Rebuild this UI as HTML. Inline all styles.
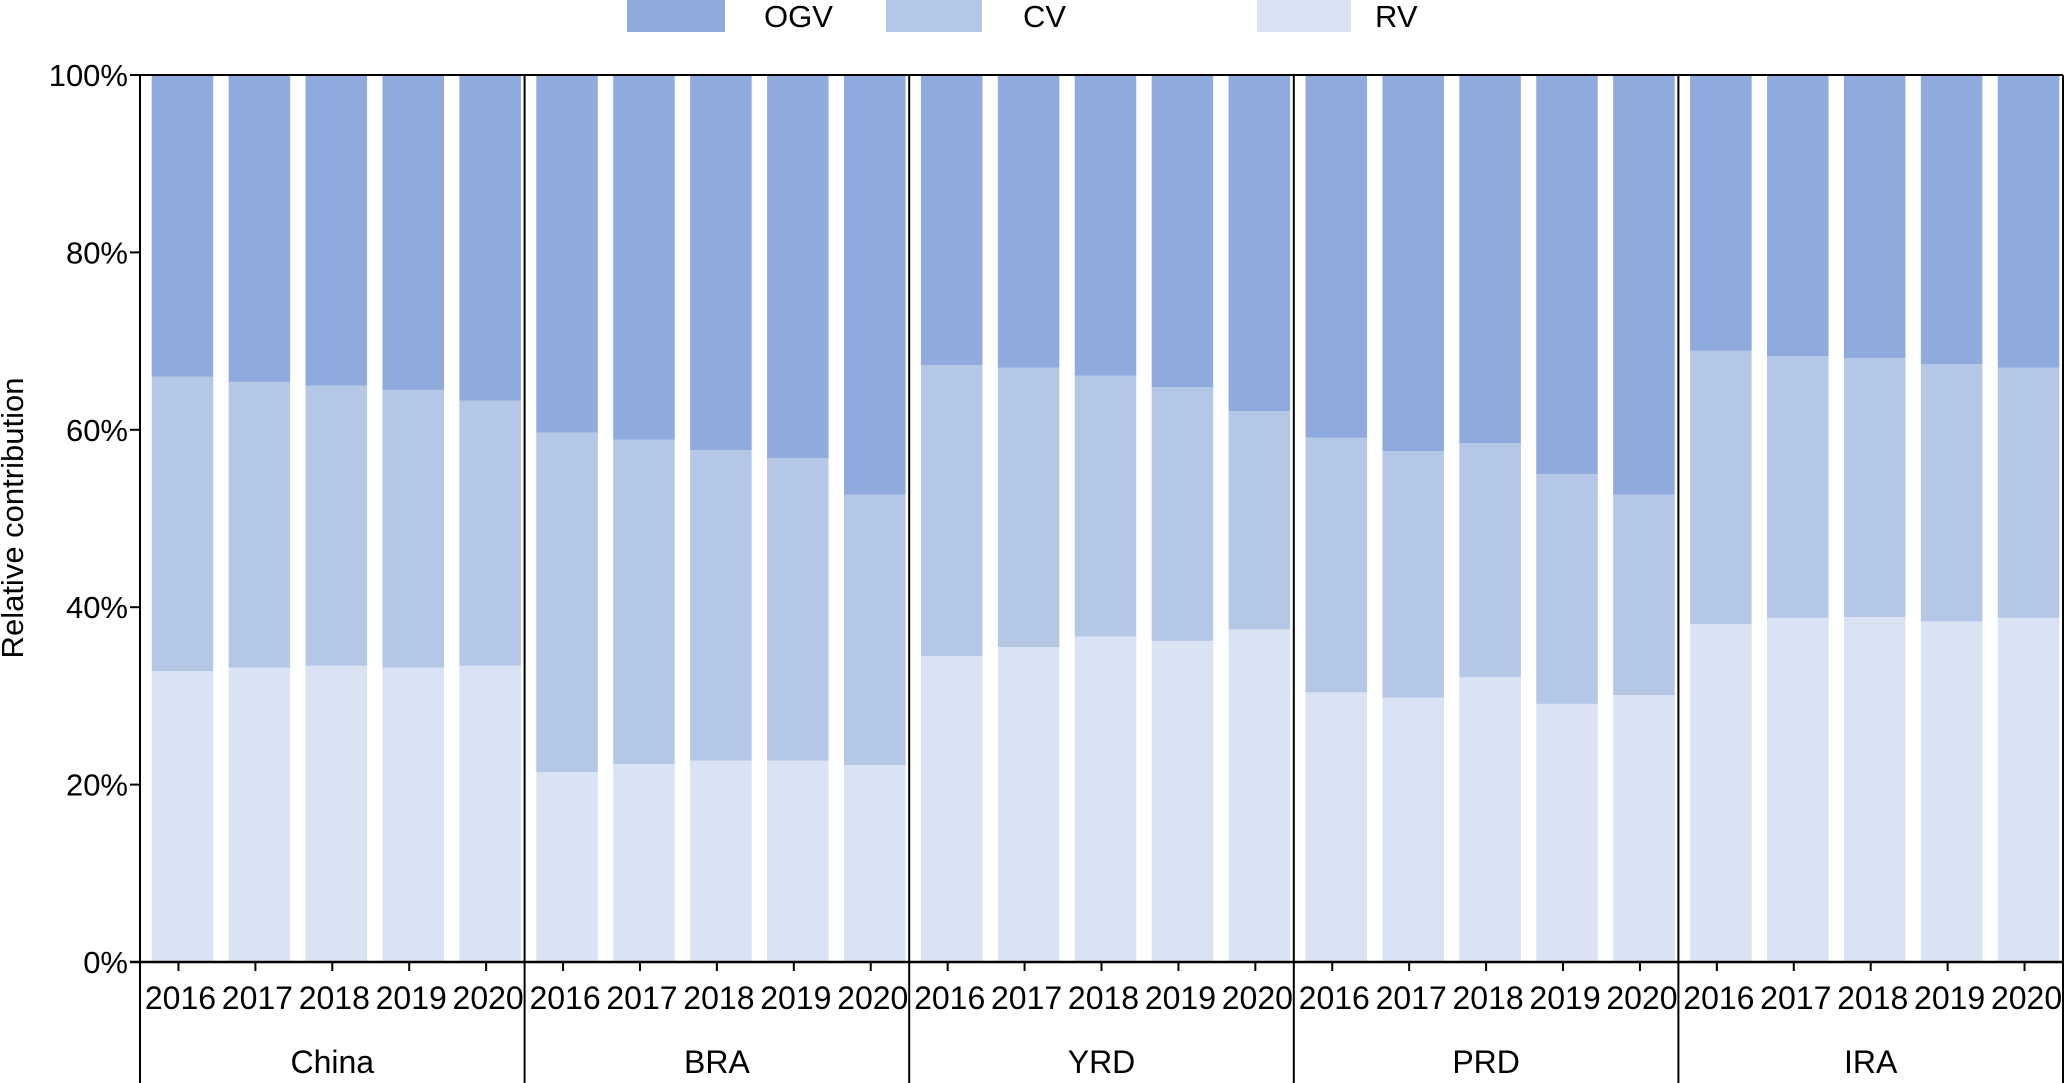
<!DOCTYPE html>
<html><head><meta charset="utf-8"><style>
body{margin:0;background:#fff}
svg{display:block;font-family:"Liberation Sans",Arial,sans-serif}
</style></head><body>
<svg id="chart" width="2067" height="1083" viewBox="0 0 2067 1083">
<g id="legend">
<rect x="627" y="0" width="98" height="32" fill="#8faadc"/>
<text x="764" y="27" font-size="31">OGV</text>
<rect x="886" y="0" width="96" height="32" fill="#b4c7e7"/>
<text x="1023" y="27" font-size="31">CV</text>
<rect x="1257" y="0" width="94" height="32" fill="#dae3f3"/>
<text x="1375" y="27" font-size="31">RV</text>
</g>
<text transform="translate(23,518) rotate(-90)" text-anchor="middle" font-size="31">Relative contribution</text>
<g id="bars"></g>
<g id="axes"></g>
</svg>
<script>
const groups = ["China","BRA","YRD","PRD","IRA"];
const years = ["2016","2017","2018","2019","2020"];
const rv = [
 [32.8,33.2,33.4,33.2,33.4],
 [21.4,22.3,22.7,22.7,22.2],
 [34.5,35.5,36.7,36.2,37.5],
 [30.4,29.8,32.1,29.1,30.1],
 [38.1,38.8,38.9,38.4,38.8]];
const cv = [
 [33.2,32.2,31.6,31.3,29.9],
 [38.3,36.6,35.0,34.1,30.5],
 [32.8,31.5,29.4,28.6,24.6],
 [28.7,27.8,26.4,25.9,22.6],
 [30.8,29.5,29.2,29.0,28.2]];
const ogv = rv.map((r,i)=>r.map((v,j)=>100-v-cv[i][j]));
const yTicks = [0,20,40,60,80,100];

const NS="http://www.w3.org/2000/svg";
const x0=140, x1=2063, yTop=75, yBot=962;
const groupW=(x1-x0)/groups.length, pitch=groupW/years.length, bw=pitch*0.8;
const y=v=>yBot-(v/100)*(yBot-yTop);
const bars=document.getElementById('bars'), axes=document.getElementById('axes');
function mk(tag,attrs,parent){const e=document.createElementNS(NS,tag);for(const k in attrs)e.setAttribute(k,attrs[k]);parent.appendChild(e);return e;}

groups.forEach((g,gi)=>{
 years.forEach((yr,yi)=>{
  const cx=x0+gi*groupW+(yi+0.5)*pitch, bx=cx-bw/2+4;
  const segs=[[rv[gi][yi],'#dae3f3','rv'],[cv[gi][yi],'#b4c7e7','cv'],[ogv[gi][yi],'#8faadc','ogv']];
  let base=0;
  segs.forEach(s=>{
   const r=mk('rect',{x:bx,y:y(base+s[0]),width:bw,height:y(base)-y(base+s[0]),fill:s[1]},bars);
   
   
   base+=s[0];
  });
  mk('line',{x1:cx,x2:cx,y1:yBot,y2:yBot+9,stroke:'#000','stroke-width':2},axes);
  const t=mk('text',{x:cx+2,y:1009,'text-anchor':'middle','font-size':32},axes);
  t.textContent=yr;
  
  
 });
 const gl=mk('text',{x:x0+(gi+0.5)*groupW,y:1073,'text-anchor':'middle','font-size':32},axes);
 gl.textContent=g;
 
 
});
for(let i=0;i<=groups.length;i++){
 const gx=x0+i*groupW;
 mk('line',{x1:gx,x2:gx,y1:yTop,y2:1083,stroke:'#000','stroke-width':2},axes);
}
mk('line',{x1:x0-10,x2:x1,y1:yBot,y2:yBot,stroke:'#000','stroke-width':2.5},axes);
mk('line',{x1:x0-10,x2:x1,y1:yTop,y2:yTop,stroke:'#000','stroke-width':2},axes);
yTicks.forEach(v=>{
 mk('line',{x1:x0-10,x2:x0,y1:y(v),y2:y(v),stroke:'#000','stroke-width':2},axes);
 const t=mk('text',{x:x0-12,y:y(v)+11,'text-anchor':'end','font-size':31},axes);
 t.textContent=v+'%';
 
 
});
</script>
</body></html>
